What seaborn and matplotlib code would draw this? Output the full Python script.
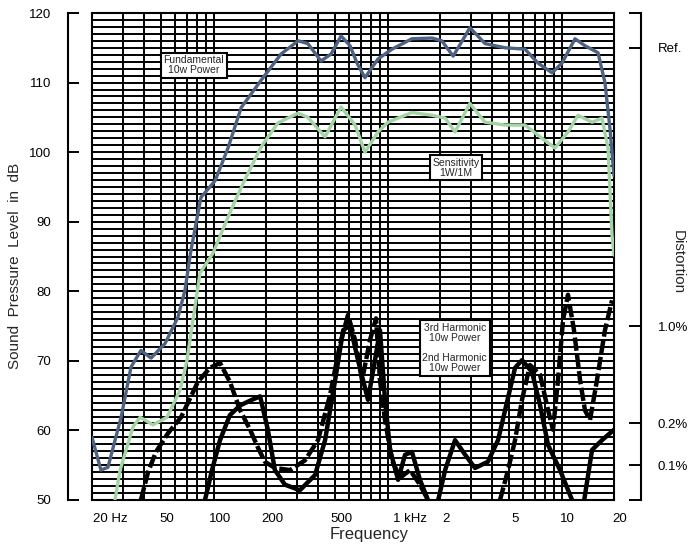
import numpy as np
import pandas as pd
import matplotlib
matplotlib.use("Agg")
import matplotlib.pyplot as plt
import seaborn as sns
from matplotlib.ticker import FixedLocator, MultipleLocator, NullFormatter
from matplotlib.transforms import ScaledTranslation

# fundamental at 10 W (Hz, dB)
fund_freq = [20, 22.5, 24.7, 29.4, 33.5, 38.2, 43.7, 52.6, 62.4, 68.4, 74.1, 84.6, 102, 121, 144,
             187, 244, 306, 348, 414, 473, 540, 608, 667, 741, 881, 1060, 1380, 1800, 2050, 2380,
             2790, 2970, 3630, 4730, 6160, 7320, 8810, 10050, 11940, 13620, 16180, 17740, 18960, 20000]
fund_db = [59.0, 54.3, 54.7, 61.9, 69.1, 71.5, 70.4, 72.5, 76.3, 80.1, 85.9, 93.5, 95.9, 100.6, 106.4,
           110.3, 114.1, 116.0, 115.6, 113.1, 114.1, 116.7, 115.3, 112.8, 110.7, 113.4, 114.8, 116.3, 116.4, 116.0, 113.8,
           116.7, 117.9, 115.6, 115.0, 114.8, 112.8, 111.4, 112.8, 116.3, 115.3, 114.3, 110.0, 103.4, 96.6]

# sensitivity 1W/1M
sens_freq = [27.1, 29.0, 34.4, 37.8, 44.8, 54.0, 64.1, 70.3, 83.5, 99.2, 126, 151, 187, 234, 306, 348,
             437, 540, 650, 741, 881, 1005, 1380, 1800, 2140, 2440, 2970, 3630, 4730, 6160, 7710,
             9160, 10880, 12420, 14960, 17060, 18480, 19480, 20000]
sens_db = [50.0, 54.3, 60.5, 61.9, 60.8, 61.9, 65.8, 70.1, 82.6, 85.5, 91.7, 96.0, 100.7, 104.2, 105.6, 105.0,
           102.2, 106.5, 103.9, 100.0, 102.9, 104.3, 105.7, 105.3, 104.9, 102.9, 107.0, 104.3, 103.9, 103.9, 102.0,
           100.6, 102.9, 105.3, 104.3, 104.9, 100.6, 88.1, 85.2]

# 2nd harmonic (dashed)
h2_freq = [38.2, 42.0, 46.6, 54.7, 65.0, 81.3, 95.3, 108.8, 124, 142, 162, 180, 197, 225, 275, 335,
           398, 467, 532, 592, 650, 713, 792, 858, 904, 966, 1060, 1178, 1346, 1534, 1706, 2000,
           4000, 4426, 4920, 5400, 5920, 6580, 7520, 8360, 8920, 9530, 10190, 10880, 11780,
           12770, 13620, 14560, 15960, 17740, 19480]
h2_db = [50.0, 54.0, 56.9, 59.6, 61.9, 67.0, 69.0, 69.7, 67.0, 62.9, 60.1, 57.5, 55.5, 54.6, 54.3, 55.7,
         58.6, 65.1, 72.3, 76.6, 73.0, 67.2, 73.0, 76.1, 67.2, 61.5, 55.7, 53.2, 54.3, 52.2, 50.0, 48.0,
         48.0, 50.0, 54.3, 58.6, 64.4, 69.4, 68.0, 62.9, 60.1, 67.2, 75.9, 79.5, 74.4,
         67.2, 62.9, 61.5, 67.2, 74.4, 78.7]

# 3rd harmonic (solid)
h3_freq = [89.2, 97.9, 108.8, 124, 142, 166, 185, 205, 225, 257, 313, 383, 437, 499, 555, 608, 676,
           771, 846, 904, 966, 1033, 1148, 1259, 1380, 1534, 1706, 1872, 2140, 2440, 2790, 3180,
           3770, 4310, 4920, 5400, 5920, 6760, 7520, 8360, 9790, 11480, 13100, 14960, 17060, 20000]
h3_db = [50.0, 54.3, 58.6, 62.2, 63.6, 64.4, 64.9, 60.1, 54.3, 52.2, 51.4, 53.6, 58.6, 67.2, 74.4, 75.1, 70.1,
         64.4, 70.1, 74.4, 64.4, 57.2, 52.9, 56.5, 56.9, 52.9, 50.0, 48.0, 54.3, 58.6, 56.5, 54.6,
         55.5, 58.6, 64.7, 69.0, 70.1, 68.4, 63.6, 57.9, 54.3, 50.0, 48.0, 57.2, 58.6, 60.1]

xtick_pos = [20, 50, 100, 200, 500, 1000, 2000, 5000, 10000, 20000]
xtick_lab = ["20 Hz", "50", "100", "200", "500", "1 kHz", "2", "5", "10", "20"]
dist_pos = [50, 55, 61, 75, 115, 120]
dist_lab = ["", "0.1%", "0.2%", "1.0%", "Ref.", ""]

sns.set_theme(style="white")
plt.rcParams["font.family"] = ["Liberation Sans", "DejaVu Sans"]

fig = plt.figure(figsize=(6.91, 5.46), dpi=100)
ax = fig.add_axes([92 / 691, 46 / 546, 522 / 691, 487 / 546])

blue = "#4d6282"
green = "#a3d4a3"

fund = pd.DataFrame({"f": fund_freq, "db": fund_db})
sens = pd.DataFrame({"f": sens_freq, "db": sens_db})
h2 = pd.DataFrame({"f": h2_freq, "db": h2_db})
h3 = pd.DataFrame({"f": h3_freq, "db": h3_db})

sns.lineplot(data=fund, x="f", y="db", ax=ax, color=blue, lw=2.4, sort=False, estimator=None, zorder=5)
sns.lineplot(data=sens, x="f", y="db", ax=ax, color=green, lw=2.4, sort=False, estimator=None, zorder=5)
sns.lineplot(data=h2, x="f", y="db", ax=ax, color="black", lw=3.2, sort=False, estimator=None,
             zorder=6, dashes=False, linestyle=(0, (3, 0.8)))
sns.lineplot(data=h3, x="f", y="db", ax=ax, color="black", lw=3.2, sort=False, estimator=None, zorder=6)

ax.set_xscale("log")
ax.set_xlim(20, 20000)
ax.set_ylim(50, 120)

# grid: every decade step on x, every dB on y
minor_x = [m * 10 ** d for d in range(1, 5) for m in range(1, 10) if 20 <= m * 10 ** d <= 20000]
ax.xaxis.set_major_locator(FixedLocator(xtick_pos))
ax.xaxis.set_minor_locator(FixedLocator(minor_x))
ax.xaxis.set_minor_formatter(NullFormatter())
ax.set_xticklabels(xtick_lab)
ax.yaxis.set_major_locator(MultipleLocator(10))
ax.yaxis.set_minor_locator(MultipleLocator(1))
ax.grid(True, which="both", color="black", lw=1.4)
ax.set_axisbelow(True)

ax.tick_params(axis="x", which="both", length=0, pad=9, labelsize=9.5, colors="black")
ax.tick_params(axis="y", which="minor", length=0)
ax.tick_params(axis="y", which="major", direction="in", length=8, width=1.4, pad=12,
               labelsize=9.5, colors="black")
for lab in ax.get_xticklabels():
    shift = 6
    if lab.get_text() in ("20 Hz", "1 kHz"):
        lab.set_ha("left")
        shift = 1 if lab.get_text() == "20 Hz" else 5
    lab.set_transform(lab.get_transform() + ScaledTranslation(shift / 100, 0, fig.dpi_scale_trans))

for side in ["top", "bottom", "right", "left"]:
    ax.spines[side].set_color("black")
    ax.spines[side].set_linewidth(1.5)
ax.spines["left"].set_position(("outward", 17.3))
ax.axvline(20, color="black", lw=1.5, clip_on=False, zorder=4)

ax.set_xlabel("Frequency", fontsize=12)
ax.set_ylabel("Sound  Pressure  Level  in  dB", fontsize=11)
ax.xaxis.set_label_coords(0.53, -0.055)
ax.yaxis.set_label_coords(-0.135, 0.48)

# distortion scale on the right
ax2 = ax.twinx()
ax2.set_ylim(50, 120)
ax2.set_yticks(dist_pos)
ax2.set_yticklabels(dist_lab)
ax2.grid(False)
for side in ["top", "bottom", "left"]:
    ax2.spines[side].set_visible(False)
ax2.spines["right"].set_position(("outward", 19.4))
ax2.spines["right"].set_color("black")
ax2.spines["right"].set_linewidth(1.5)
ax2.tick_params(axis="y", direction="in", length=9, width=1.4, pad=12, labelsize=9.5, colors="black")
fig.text(678 / 691, 1 - 262 / 546, "Distortion", rotation=270, ha="center", va="center", fontsize=11)

box = dict(boxstyle="square,pad=0.25", fc="white", ec="black", lw=1.5)
ax.text(0.195, 0.893, "Fundamental\n10w Power", transform=ax.transAxes, ha="center", va="center",
        fontsize=7.5, linespacing=1.0, bbox=box, zorder=8)
ax.text(0.697, 0.682, "Sensitivity\n1W/1M", transform=ax.transAxes, ha="center", va="center",
        fontsize=7.5, linespacing=1.0, bbox=box, zorder=8)
ax.text(0.695, 0.312, "3rd Harmonic\n10w Power\n\n2nd Harmonic\n10w Power", transform=ax.transAxes,
        ha="center", va="center", fontsize=7.5, linespacing=1.0, bbox=box, zorder=8)

fig.savefig("out.png", dpi=100)
